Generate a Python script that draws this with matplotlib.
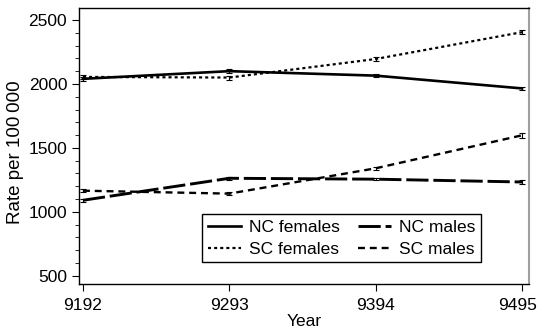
import matplotlib
matplotlib.use("Agg")
import matplotlib.pyplot as plt
import matplotlib.transforms as mtransforms
from matplotlib.ticker import MultipleLocator

plt.rcParams['font.family'] = ['Liberation Sans', 'DejaVu Sans']
plt.rcParams['lines.scale_dashes'] = False

years = ["9192", "9293", "9394", "9495"]
nc_females = [2040, 2100, 2065, 1965]
sc_females = [2055, 2050, 2195, 2405]
nc_males = [1090, 1262, 1255, 1233]
sc_males = [1165, 1142, 1340, 1598]
nc_females_err = [15, 14, 13, 12]
sc_females_err = [18, 16, 15, 14]
nc_males_err = [10, 10, 10, 12]
sc_males_err = [14, 12, 14, 18]

fig = plt.figure(figsize=(5.38, 3.29), dpi=100)
ax = fig.add_axes([79/538, 1-284/329, 450/538, 276.5/329])
x = list(range(len(years)))

def draw(vals, errs, lw, dashes, label):
    line, = ax.plot(x, vals, color='black', lw=lw, label=label)
    if dashes is not None:
        line.set_dashes(dashes)
    ax.errorbar(x, vals, yerr=errs, fmt='none', ecolor='black', elinewidth=0.8,
                capsize=2, capthick=0.8)
    return line

h1 = draw(nc_females, nc_females_err, 1.9, None, "NC females")
h2 = draw(sc_females, sc_females_err, 1.6, (2.2, 2.2), "SC females")
h3 = draw(nc_males, nc_males_err, 2.1, (16, 3.5), "NC males")
h4 = draw(sc_males, sc_males_err, 1.7, (5, 3.5), "SC males")

ax.set_xlim(-0.027, 3.048)
ax.set_ylim(435, 2598)
ax.set_xticks(x)
ax.set_xticklabels(years)
ax.set_yticks([500, 1000, 1500, 2000, 2500])
ax.yaxis.set_minor_locator(MultipleLocator(100))
ax.tick_params(axis='both', which='major', labelsize=12.5, length=5, width=0.8, direction='out', color='black')
ax.tick_params(axis='x', which='major', pad=5)
ax.tick_params(axis='y', which='minor', length=3, width=0.6)
ax.set_xlabel("Year", fontsize=12.5, labelpad=1)
ax.set_ylabel("Rate per 100\u2009000", fontsize=13.5)
ax.yaxis.set_label_coords(-0.122, 0.477)
for s in ['left', 'bottom', 'top']:
    ax.spines[s].set_color('black')
    ax.spines[s].set_linewidth(1.0)
ax.spines['right'].set_color('#a0a0a0')
ax.spines['right'].set_linewidth(1.5)

# keep the last x tick label inside the canvas
last = ax.get_xticklabels()[-1]
last.set_transform(last.get_transform() + mtransforms.ScaledTranslation(-4/100, 0, fig.dpi_scale_trans))

leg = ax.legend(handles=[h1, h2, h3, h4], ncol=2, loc='lower right',
                bbox_to_anchor=(0.893, 0.0796), fontsize=12.5, frameon=True,
                fancybox=False, edgecolor='black', framealpha=1,
                handlelength=1.9, handletextpad=0.5, columnspacing=1.0,
                labelspacing=0.4, borderpad=0.3, borderaxespad=0)
leg.get_frame().set_linewidth(1.0)

fig.savefig("out.png", dpi=100)
